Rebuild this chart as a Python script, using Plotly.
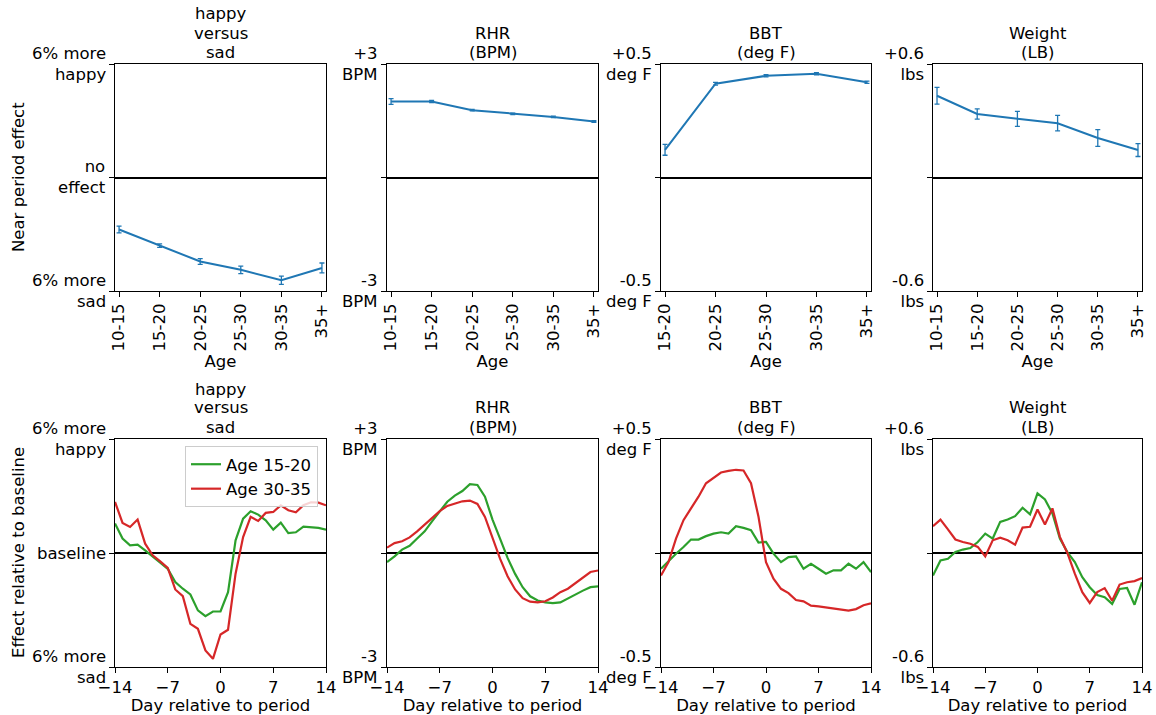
import plotly.graph_objects as go
from plotly.subplots import make_subplots

# ---------------- data ----------------
age_all = ["10-15", "15-20", "20-25", "25-30", "30-35", "35+"]
age_bbt = ["15-20", "20-25", "25-30", "30-35", "35+"]

mood_age = [-2.75, -3.6, -4.44, -4.88, -5.43, -4.78]
mood_age_err = [0.18, 0.09, 0.15, 0.2, 0.22, 0.26]
rhr_age = [2.01, 2.01, 1.78, 1.68, 1.60, 1.48]
rhr_age_err = [0.075, 0.03, 0.02, 0.02, 0.02, 0.02]
bbt_age = [0.122, 0.413, 0.448, 0.457, 0.42]
bbt_age_err = [0.024, 0.006, 0.005, 0.005, 0.005]
wt_age = [0.432, 0.336, 0.31, 0.287, 0.209, 0.145]
wt_age_err = [0.044, 0.027, 0.04, 0.041, 0.044, 0.034]

days = list(range(-14, 15))

mood_young = [1.55, 0.76, 0.40, 0.44, 0.14, -0.21, -0.51, -0.83, -1.53, -1.88, -2.18, -3.02, -3.32, -3.08,
              -3.08, -2.06, 0.67, 1.81, 2.20, 2.02, 1.72, 1.23, 1.60, 1.05, 1.09, 1.39, 1.35, 1.32, 1.23]
mood_old = [2.69, 1.58, 1.37, 1.76, 0.49, -0.12, -0.44, -0.79, -1.92, -2.27, -3.73, -3.99, -5.13, -5.57,
            -4.29, -4.04, -1.09, 0.84, 1.90, 1.69, 2.11, 2.16, 2.51, 2.25, 2.14, 2.51, 2.67, 2.65, 2.51]

rhr_young = [-0.24, -0.09, 0.09, 0.19, 0.38, 0.57, 0.84, 1.10, 1.35, 1.51, 1.63, 1.81, 1.79, 1.48,
             0.88, 0.38, -0.13, -0.55, -0.90, -1.14, -1.25, -1.30, -1.32, -1.30, -1.19, -1.09, -0.99, -0.90, -0.88]
rhr_old = [0.14, 0.26, 0.31, 0.41, 0.57, 0.75, 0.94, 1.10, 1.24, 1.29, 1.36, 1.38, 1.29, 0.95,
           0.40, -0.15, -0.61, -0.96, -1.19, -1.28, -1.30, -1.27, -1.17, -1.03, -0.94, -0.79, -0.64, -0.50, -0.46]

bbt_young = [-0.069, -0.035, -0.003, 0.026, 0.059, 0.059, 0.074, 0.085, 0.091, 0.085, 0.118, 0.110, 0.100, 0.046,
             0.049, -0.003, -0.040, -0.018, -0.015, -0.069, -0.047, -0.069, -0.091, -0.076, -0.076, -0.047, -0.069, -0.040, -0.084]
bbt_old = [-0.099, -0.040, 0.063, 0.144, 0.196, 0.247, 0.306, 0.328, 0.353, 0.360, 0.365, 0.362, 0.306, 0.159,
           -0.040, -0.113, -0.157, -0.176, -0.206, -0.212, -0.231, -0.234, -0.238, -0.243, -0.249, -0.253, -0.246, -0.229, -0.221]

wt_young = [-0.118, -0.039, -0.030, 0.005, 0.018, 0.026, 0.058, 0.102, 0.076, 0.164, 0.176, 0.194, 0.238, 0.203,
            0.314, 0.282, 0.208, 0.076, 0.005, -0.048, -0.127, -0.180, -0.221, -0.233, -0.268, -0.189, -0.184, -0.272, -0.154]
wt_old = [0.141, 0.176, 0.124, 0.071, 0.058, 0.049, 0.032, -0.018, 0.067, 0.081, 0.067, 0.044, 0.134, 0.138,
          0.229, 0.150, 0.235, 0.085, 0.000, -0.109, -0.206, -0.263, -0.206, -0.185, -0.251, -0.166, -0.154, -0.148, -0.132]

titles = [["happy", "versus", "sad"], ["RHR", "(BPM)"], ["BBT", "(deg F)"], ["Weight", "(LB)"]]
limits = [6, 3, 0.5, 0.6]
top_ticktext = [["6% more<br>sad", "no<br>effect", "6% more<br>happy"],
                ["-3<br>BPM", "", "+3<br>BPM"],
                ["-0.5<br>deg F", "", "+0.5<br>deg F"],
                ["-0.6<br>lbs", "", "+0.6<br>lbs"]]
bottom_ticktext = [["6% more<br>sad", "baseline", "6% more<br>happy"],
                   ["-3<br>BPM", "", "+3<br>BPM"],
                   ["-0.5<br>deg F", "", "+0.5<br>deg F"],
                   ["-0.6<br>lbs", "", "+0.6<br>lbs"]]
day_ticks = [-14, -7, 0, 7, 14]
day_ticktext = ["\u221214", "\u22127", "0", "7", "14"]

BLUE = "#1f77b4"
GREEN = "#2ca02c"
RED = "#d62728"
FONT = "DejaVu Sans"
FS = 16.5

W, H = 1156, 715
col_px = [(115, 326), (387, 598), (661, 871), (933, 1142)]
top_px = (64, 291)
bot_px = (439, 667)

fig = make_subplots(rows=2, cols=4)

top_data = [(age_all, mood_age, mood_age_err), (age_all, rhr_age, rhr_age_err),
            (age_bbt, bbt_age, bbt_age_err), (age_all, wt_age, wt_age_err)]
bot_data = [(mood_young, mood_old), (rhr_young, rhr_old), (bbt_young, bbt_old), (wt_young, wt_old)]

for c in range(4):
    cats, vals, errs = top_data[c]
    xs = list(range(len(cats)))
    fig.add_trace(go.Scatter(x=xs, y=vals, mode="lines", line=dict(color=BLUE, width=2),
                             error_y=dict(type="data", array=errs, color=BLUE, thickness=1.3, width=2.5),
                             showlegend=False), row=1, col=c + 1)
    young, old = bot_data[c]
    fig.add_trace(go.Scatter(x=days, y=young, mode="lines", line=dict(color=GREEN, width=2.2),
                             name="Age 15-20", showlegend=(c == 0)), row=2, col=c + 1)
    fig.add_trace(go.Scatter(x=days, y=old, mode="lines", line=dict(color=RED, width=2.2),
                             name="Age 30-35", showlegend=(c == 0)), row=2, col=c + 1)

axis_common = dict(showline=True, mirror=True, linecolor="black", linewidth=1,
                   ticks="outside", ticklen=5, tickwidth=1, tickcolor="black", automargin=False,
                   showgrid=False, tickfont=dict(family=FONT, size=FS, color="black"))

tfont = dict(family=FONT, size=FS, color="black")
annotations = []


def ylabel_annots(texts, L, px_rng, x_left):
    y0, y1 = px_rng
    for val, txt in zip([-L, 0, L], texts):
        if not txt:
            continue
        ypx = y1 - (val + L) / (2 * L) * (y1 - y0)
        annotations.append(dict(text=txt, x=(x_left - 7) / W, y=1 - ypx / H, xref="paper", yref="paper",
                                xanchor="right", yanchor="middle", align="right", showarrow=False,
                                font=tfont))


def title_annots(lines, cx_px, panel_top):
    for k, line in enumerate(reversed(lines)):
        ypx = panel_top - 12 - 19 * k
        annotations.append(dict(text=line, x=cx_px / W, xref="paper", y=1 - ypx / H, yref="paper",
                                xanchor="center", yanchor="middle", showarrow=False, font=tfont))


for c in range(4):
    x0, x1 = col_px[c]
    dom_x = [x0 / W, x1 / W]
    n = len(top_data[c][0])
    pad = 0.02 * (n - 1)
    fig.update_xaxes(row=1, col=c + 1, domain=dom_x, range=[-pad, n - 1 + pad],
                     tickvals=list(range(n)), ticktext=top_data[c][0], tickangle=-90,
                     zeroline=False,
                     title=dict(text="Age", font=tfont, standoff=1),
                     **axis_common)
    fig.update_xaxes(row=2, col=c + 1, domain=dom_x, range=[-14, 14],
                     tickvals=day_ticks, ticktext=day_ticktext, zeroline=False,
                     title=dict(text="Day relative to period", font=tfont, standoff=1),
                     **axis_common)
    L = limits[c]
    fig.update_yaxes(row=1, col=c + 1, domain=[1 - top_px[1] / H, 1 - top_px[0] / H], range=[-L, L],
                     tickvals=[-L, 0, L], ticktext=["", "", ""],
                     zeroline=True, zerolinecolor="black", zerolinewidth=2, **axis_common)
    fig.update_yaxes(row=2, col=c + 1, domain=[1 - bot_px[1] / H, 1 - bot_px[0] / H], range=[-L, L],
                     tickvals=[-L, 0, L], ticktext=["", "", ""],
                     zeroline=True, zerolinecolor="black", zerolinewidth=2, **axis_common)
    ylabel_annots(top_ticktext[c], L, top_px, x0)
    ylabel_annots(bottom_ticktext[c], L, bot_px, x0)
    cx = (x0 + x1) / 2
    title_annots(titles[c], cx, top_px[0])
    title_annots(titles[c], cx, bot_px[0])

annotations.append(dict(text="Near period effect", x=18 / W, y=1 - 177 / H, xref="paper", yref="paper",
                        textangle=-90, showarrow=False, xanchor="center", yanchor="middle", font=tfont))
annotations.append(dict(text="Effect relative to baseline", x=18 / W, y=1 - 553 / H, xref="paper", yref="paper",
                        textangle=-90, showarrow=False, xanchor="center", yanchor="middle", font=tfont))

fig.update_layout(
    width=W, height=H,
    margin=dict(l=0, r=0, t=0, b=0, autoexpand=False),
    paper_bgcolor="white", plot_bgcolor="white",
    font=tfont,
    annotations=annotations,
    legend=dict(x=318 / W, y=1 - 446 / H, xanchor="right", yanchor="top",
                bordercolor="#cccccc", borderwidth=1, bgcolor="rgba(255,255,255,0.8)",
                font=tfont, tracegroupgap=0),
)

fig.write_html("out.html")
